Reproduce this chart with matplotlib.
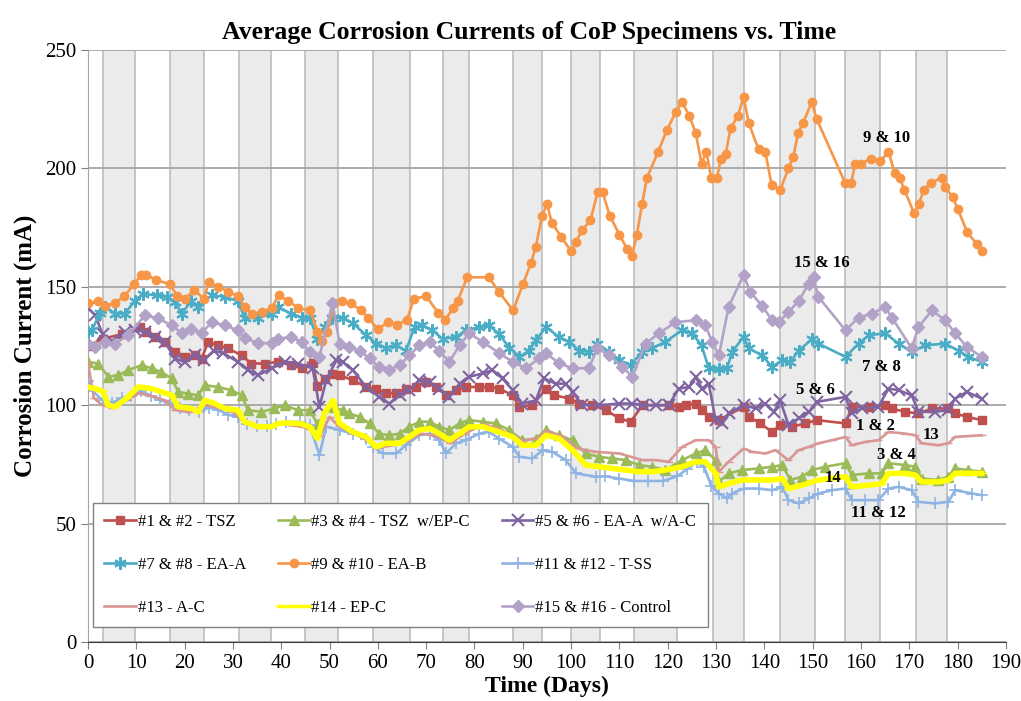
import matplotlib
matplotlib.use("Agg")
import matplotlib.pyplot as plt
from matplotlib.lines import Line2D

plt.rcParams['font.family'] = ['Liberation Serif', 'DejaVu Serif']

# exposure periods (grey bands), days
band_start = [3, 17, 31.3, 45, 59, 73.5, 88, 100, 113, 129.4, 143.3, 156.7, 171.4]
band_end = [9.7, 24, 37.9, 51.8, 66.7, 78.9, 94, 106, 122, 135.8, 150.5, 164, 177.8]

# (day, current mA)
tsz = [(0, 125), (3, 128), (7, 130), (10.7, 133), (12, 131), (13.8, 128.8), (15.9, 126.7), (18, 122.5),
       (20, 120.4), (22.1, 121), (23.5, 119.7), (24.9, 126.7), (26.9, 125.3), (29, 124), (31.8, 121),
       (33.8, 117.6), (36.6, 117.6), (39.3, 118.3), (42, 116.9), (44.2, 115.5), (46.5, 117.7), (47.5, 108),
       (49, 111), (50.5, 113), (52.1, 112.7), (54.8, 110.5), (57.6, 107.7), (59.6, 107), (61.7, 105),
       (63.8, 105), (65.8, 107), (67.9, 107.7), (70, 109.8), (72, 107.7), (74.1, 104.2), (76.2, 106.3),
       (78.2, 107.7), (81, 107.7), (83, 107.7), (85.1, 107), (87.9, 104.2), (89.3, 99.3), (92, 100),
       (94.8, 107), (96.5, 104.2), (99.6, 102.8), (101.7, 100.7), (104.4, 100), (107.2, 97.9), (110, 94.4),
       (112.3, 93), (114.8, 100), (120.2, 100), (122.3, 99.3), (123.7, 100), (125.8, 100.7), (127.1, 97.9),
       (128.5, 95.1), (130.6, 93.7), (135.7, 99.3), (136.8, 95.1), (139.2, 92.3), (141.6, 88.7),
       (143.3, 91.6), (145.7, 90.9), (148.5, 92.3), (150.9, 93.7), (156.8, 92.3), (158.1, 99.3),
       (161.6, 99.3), (165, 100), (166.4, 98.6), (169.1, 97.2), (171.9, 96.5), (174.7, 98.6), (178.1, 98.6),
       (179.5, 96.5), (181.9, 95.1), (185, 93.7)]

tsz_epc = [(0, 118.3), (2.1, 117.6), (4.2, 112), (6.3, 112.7), (8.3, 114.8), (11.1, 116.9), (13.2, 115.5),
           (15.2, 114), (17.3, 111.3), (18.7, 105.6), (20.7, 104.9), (22.8, 104.2), (24.2, 108.4),
           (26.9, 107.7), (29.7, 106.3), (31.8, 104.2), (33.1, 97.9), (35.9, 97.2), (38.6, 98.6), (40.7, 100),
           (43.4, 97.9), (45.9, 97.9), (47.5, 92), (50, 99.3), (52.7, 97.9), (54.1, 96.5), (56.2, 95.1),
           (58.3, 92.3), (60.3, 88), (62.4, 87.3), (64.5, 88), (66.5, 90.9), (68.6, 93), (70.7, 93),
           (72.7, 90.9), (74.8, 89.5), (76.9, 92.3), (78.9, 93.7), (81.7, 93), (84.4, 92.3), (87.2, 89.5),
           (89.9, 85.2), (92.7, 85.9), (94.8, 89.5), (97.5, 87.3), (100.3, 85.2), (103, 79.6), (105.8, 78.2),
           (108.5, 77.5), (111.3, 76.8), (114, 74.7), (116.8, 74), (119.5, 72.6), (123, 76.8), (125.8, 79.6),
           (127.8, 81), (129.9, 76.8), (130.6, 67.6), (132.6, 71.2), (135.4, 72.6), (138.8, 73.3),
           (141.6, 74), (143.7, 74.7), (145.4, 68.4), (147.8, 69.8), (149.9, 72.6), (152.6, 74),
           (156.8, 75.5), (158.1, 70.5), (161.6, 71.2), (164.3, 71.2), (165.7, 75.5), (169.1, 74.7),
           (171.2, 74), (172.6, 69), (176, 68.4), (178.1, 69.8), (179.5, 73.3), (182.2, 72.6), (185, 71.9)]

eaa_ac = [(0, 141), (1.5, 138), (3, 130), (5, 127), (7.6, 131), (9.7, 131.6), (11.8, 131), (13.8, 128.8),
          (15.9, 126.7), (18, 119.7), (20, 118.3), (22.1, 121), (24, 119), (26, 123), (28, 122), (31, 118.3),
          (33.1, 114.8), (35.2, 112.7), (38, 115.5), (40.7, 118.3), (43.4, 117.6), (46.5, 115.5),
          (47.9, 99.3), (49.3, 110.5), (51.4, 119), (52.7, 118.3), (54.8, 114.8), (57.6, 107.7),
          (60.3, 103.5), (62.4, 100.7), (64.5, 104.2), (66.5, 106.3), (68.6, 110.5), (70.7, 109.8),
          (72.7, 107), (74.8, 103.5), (76.9, 109.1), (78.9, 112), (81.7, 113.4), (83.7, 114.8),
          (85.8, 111.3), (87.9, 106.3), (89.9, 100.7), (92.7, 102), (94.4, 111.3), (96.8, 109.1),
          (98.9, 109.1), (100.3, 105.6), (102.3, 100), (105.8, 100), (110, 100.7), (112.7, 100.7),
          (114.8, 100), (117.5, 100), (120.2, 100), (122.3, 107), (124.4, 107.7), (125.8, 111.9),
          (127.1, 107), (128.5, 109.1), (129.9, 93.7), (131.3, 92.3), (132.6, 96.5), (135.7, 100),
          (138.2, 98.6), (140.2, 100.7), (142, 97.2), (143.3, 102), (145, 91.6), (147.1, 94.4), (149.2, 97.2),
          (150.9, 101.4), (156.8, 103.5), (158.1, 96.5), (160.2, 98.6), (163.6, 99.3), (165.7, 107),
          (167.8, 106.3), (170.5, 104.2), (171.9, 97.2), (175.3, 97.2), (178.1, 97.9), (179.5, 102.8),
          (181.9, 105.6), (185, 102.8)]

eaa = [(0, 131), (0.8, 131.6), (2.5, 139), (3.5, 141.5), (5.6, 138.7), (7.6, 138.7), (9.7, 144), (11.4, 147),
       (14.2, 146.4), (16.3, 145.7), (18, 143.6), (19.4, 138.7), (21.4, 144), (22.7, 141.5), (25.6, 146.4),
       (28.3, 145.7), (31, 144), (32.4, 137), (35.1, 136.7), (38, 138.7), (39.3, 141.5), (42, 138.7),
       (44.2, 137), (45.9, 137), (47.5, 128), (49, 133), (50.6, 136.7), (52.7, 137), (54.8, 134.6),
       (57.6, 129.5), (59.6, 126), (61.7, 124), (63.8, 125.3), (65.8, 123), (67.6, 133), (69.2, 133.7),
       (71.3, 131.6), (73.4, 128), (76.2, 128.8), (78.2, 131.6), (81, 133), (83, 133.7), (85.1, 130),
       (87.2, 124.3), (89.3, 120.4), (91.3, 123), (92.7, 127.4), (94.8, 133), (97.5, 128.8), (99.6, 126.7),
       (101.7, 123), (103.7, 122.5), (105.4, 126), (107.9, 122.5), (110, 119), (112.3, 116.9),
       (114.7, 122.5), (116.7, 124), (119.5, 126.7), (122.9, 131.6), (125, 130.4), (127, 125.3),
       (128.5, 115.6), (130.6, 115.2), (132.3, 115.6), (133.3, 122.5), (135.7, 128.8), (136.8, 124),
       (139.5, 121), (141.6, 116.2), (143.7, 119), (145.4, 118.3), (147.1, 123), (149.9, 128), (151.2, 126),
       (156.8, 120.4), (159.5, 126), (161.6, 129.5), (165, 130.4), (167.8, 126), (170.5, 122.5),
       (173.3, 125.3), (177.4, 126), (180.2, 123), (182.2, 120.4), (185, 118.3)]

eab = [(0, 143), (2, 144), (3.5, 142), (5.5, 143), (7.5, 146), (9.5, 151), (11, 155), (12, 155), (14, 153),
       (17, 151), (18.5, 146), (20, 145), (22, 148.5), (24, 145), (25, 152), (27, 150), (29, 148), (31, 146),
       (32.5, 141.5), (34, 138.5), (36, 139.5), (38, 141), (39.5, 146.5), (41.5, 144), (43.5, 141),
       (46, 140), (47.5, 131), (48.5, 127), (49.5, 131), (51, 143), (52.5, 144), (54.5, 143), (56.5, 140),
       (58, 137), (60, 132), (62, 135), (64, 134), (66, 136), (67.5, 145), (70, 146), (72.5, 139),
       (74, 136), (75.5, 141), (76.5, 144), (78.5, 154), (83, 154), (85, 148), (88, 140), (90, 151),
       (91.7, 160), (92.7, 167), (94, 180), (95, 185), (96, 177), (98, 171), (100, 165), (101, 169),
       (102.3, 174), (104, 178), (105.5, 190), (106.5, 190), (108, 180), (110, 172), (111.6, 166),
       (112.6, 163), (113.6, 172), (114.7, 185), (115.7, 196), (118, 207), (119.8, 216), (121.7, 224),
       (123, 228), (124.5, 222), (125.8, 215), (127, 202), (128, 207), (129, 196), (130.2, 196),
       (131, 204), (132, 206), (133, 217), (134.5, 222), (135.7, 230), (136.8, 219), (138.8, 208),
       (140.2, 207), (141.5, 193), (143.3, 191), (145, 200), (146, 205), (147, 215), (148, 219),
       (149.8, 228), (150.8, 221), (156.7, 194), (158, 194), (158.8, 202), (160, 202), (162, 204),
       (164, 203), (165.7, 207), (167, 198), (168, 196), (169, 191), (171, 181), (172, 185), (173, 191),
       (174.6, 194), (176.7, 196), (177.4, 192), (179, 188), (180, 183), (182, 173), (184, 168), (185, 165)]

tss = [(0, 110), (1, 106), (3, 102), (5, 101), (7, 103), (9, 104), (11, 106), (13, 104), (15, 102), (17, 101),
       (19, 99), (21, 98), (23, 97), (25, 99), (27, 98), (29, 96), (31, 95), (33, 92), (35, 91), (37, 91),
       (39, 92), (41, 93), (43.8, 93), (45.9, 91.6), (47.9, 78.9), (49.3, 90.9), (52.1, 89.5), (54.8, 88),
       (57.6, 85.9), (59, 82.4), (61, 79.6), (63.8, 79.6), (65.8, 83.1), (68.6, 87.3), (70.7, 88),
       (72.7, 85.2), (74.1, 79.6), (76.2, 83.9), (78.2, 85.2), (81, 88), (83, 88.7), (85.1, 85.9),
       (87.9, 82.4), (89.3, 78.2), (92, 77.5), (94.1, 81), (96.1, 80.3), (98.9, 76.8), (101, 71.2),
       (105.1, 69.8), (107, 70), (110, 69), (113, 68), (116, 68), (119, 68), (122, 70), (124, 73), (126, 76),
       (127.5, 74), (129, 66), (130.6, 62.7), (132.3, 60.6), (133.3, 62.7), (135.7, 64.8), (138.8, 64.8),
       (141.6, 64.1), (143.7, 65.5), (145, 59.9), (147.1, 58.5), (149.2, 60.6), (151.2, 62.7), (154, 64.1),
       (156.8, 64.8), (158.1, 59.9), (160.9, 59.9), (163.6, 59.9), (165.7, 64.8), (167.8, 65.5),
       (170.5, 64.1), (171.9, 59.2), (175.3, 58.5), (178.1, 59.2), (179.5, 64.1), (183, 62.7), (185, 62)]

ac = [(0, 118), (1.2, 103), (3, 100), (5, 99), (8, 102), (10.5, 105), (13, 104), (16, 102), (18, 98), (21, 97),
      (24, 100), (27, 99), (30, 97), (33, 92), (36, 91), (40, 92), (44, 91), (46, 90), (48, 87), (50, 95),
      (52, 91), (55, 88), (58, 85), (60, 82), (63, 83), (66, 85), (69, 88), (72, 87), (75, 84), (78, 88),
      (82, 92), (85, 90), (87.2, 88), (90, 85), (93, 86), (95, 89), (98, 87), (101, 82), (103, 81),
      (105.1, 80.3), (110, 79.6), (114.8, 76.8), (117.5, 76.8), (120.2, 76.1), (123, 82.4), (125.8, 85.2),
      (128.5, 85.2), (129.9, 82.4), (130.6, 71.9), (132.6, 76.1), (135.7, 81.7), (137.5, 80.3),
      (140.2, 79.6), (142.3, 81), (145, 76.8), (147.1, 81), (149.2, 82.4), (151.2, 83.9), (154, 85.2),
      (156.8, 86.6), (158.1, 83.1), (160.9, 84.5), (163.6, 85.2), (165.7, 88.7), (169.1, 88), (171.2, 87.3),
      (172.6, 83.9), (176, 83.1), (178.1, 83.9), (179.5, 86.6), (185, 87.3)]

epc = [(0, 107.7), (1.4, 107), (3, 106), (4.2, 100), (5.6, 99.3), (8, 103), (10.4, 107.7), (13.2, 107),
       (15.2, 105.6), (17.3, 104.2), (18.7, 99.3), (21.4, 98.6), (22.8, 97.2), (24.2, 102.1), (26.2, 100.7),
       (28.3, 98.6), (31, 97.9), (32.4, 93), (35.2, 90.9), (38, 90.9), (39.3, 92.3), (41.5, 92.5),
       (43.8, 92.3), (45.9, 90.9), (47.5, 86), (49, 97), (50.7, 102), (52.1, 92.3), (54.8, 88.7),
       (57.6, 86.6), (59.6, 82.4), (61.7, 83.9), (64.5, 83.9), (66.5, 86.6), (68.6, 89.5), (70.7, 90.2),
       (72.7, 88), (74.8, 85.2), (76.9, 88), (78.9, 90.9), (81.7, 90.9), (85.1, 88.7), (87.9, 86.6),
       (89.9, 83.1), (92.7, 83.1), (94.8, 87.3), (97.5, 85.9), (100.3, 81), (103, 74.7), (105.8, 74),
       (108.5, 73.3), (111.3, 72.6), (114, 71.9), (116.8, 71.9), (119.5, 72.6), (123, 74), (125.8, 76.1),
       (127.8, 76.1), (129.9, 71.2), (130.6, 65.5), (132.6, 66.9), (135.4, 68.4), (138.8, 68.4),
       (141.6, 68.4), (143.7, 69), (145, 64.8), (147.8, 66.2), (151.2, 68.4), (156.8, 69.8), (158.1, 65.5),
       (161.6, 66.2), (164.3, 66.9), (165.7, 71.2), (169.1, 71.2), (171.2, 70.5), (172.6, 67.6), (176, 67.6),
       (178.1, 68.4), (179.5, 71.2), (185, 71.2)]

control = [(0, 126), (1.4, 124.6), (3.5, 126.7), (5.6, 126), (8.3, 129.5), (11.8, 138), (14.5, 136.7),
           (17.3, 133.7), (19.4, 130.4), (21.4, 132.3), (23.5, 130.4), (25.6, 135), (28.3, 133.7), (31, 131.6),
           (32.4, 128.3), (35.2, 126.2), (38, 126.2), (39.3, 128), (42, 128.8), (44.2, 126.7), (45.9, 122.5),
           (47.9, 120.4), (50.6, 143), (52.1, 126), (54.1, 124.6), (56.2, 123), (58.3, 119.8), (60.3, 116),
           (62.4, 114.8), (64.5, 116.9), (66.5, 121), (68.6, 125.3), (70.7, 126.7), (72.7, 123),
           (74.8, 118.3), (76.9, 125.3), (78.9, 130.4), (81.7, 126.7), (85.1, 122), (87.9, 118.3),
           (90.6, 115.6), (93.4, 119.8), (94.8, 122), (97.5, 117.7), (100.3, 115.6), (103.7, 115.6),
           (105.4, 124), (107.9, 121), (110.6, 116.2), (112.7, 112), (115.4, 126), (118.2, 130.4),
           (121.6, 135), (125.8, 135.9), (127.8, 133.7), (129.2, 126.7), (130.6, 121), (132.6, 141.5),
           (135.7, 155), (137.1, 147.8), (139.5, 142), (141.6, 135.9), (143, 135), (145, 139.4), (147.1, 144),
           (149.2, 151.3), (150.2, 154), (151.2, 145.7), (156.8, 131.6), (159.5, 137), (162.3, 138.7),
           (165, 141.5), (166.4, 137), (170.5, 124), (171.9, 133), (174.7, 140), (177.4, 135.9),
           (179.5, 130.4), (181.9, 124.6), (185, 120.4)]

names = ["#1 & #2 - TSZ", "#3 & #4 - TSZ  w/EP-C", "#5 & #6 - EA-A  w/A-C",
         "#7 & #8 - EA-A", "#9 & #10 - EA-B", "#11 & #12 - T-SS",
         "#13 - A-C", "#14 - EP-C", "#15 & #16 - Control"]
series = [tsz, tsz_epc, eaa_ac, eaa, eab, tss, ac, epc, control]

# curve labels drawn on the plot
label_text = ["9 & 10", "15 & 16", "7 & 8", "5 & 6", "1 & 2", "13", "3 & 4", "14", "11 & 12"]
label_x = [165.3, 151.9, 164.3, 150.6, 163.0, 174.6, 167.4, 154.3, 163.6]
label_y = [213, 160, 116.2, 106.3, 91, 87.3, 79, 69.2, 54.4]

styles = [
    dict(color="#C0504D", marker="s", ms=6),
    dict(color="#9BBB59", marker="^", ms=7),
    dict(color="#8064A2", marker="x", ms=8, mew=1.5),
    dict(color="#4BACC6", marker=(6, 2, 0), ms=9, mew=1.5),
    dict(color="#F79646", marker="o", ms=6),
    dict(color="#8EB4E3", marker="+", ms=9, mew=1.2),
    dict(color="#D99694", marker="_", ms=6),
    dict(color="#FFFF00", marker="_", ms=6, lw=4),
    dict(color="#B3A2C7", marker="D", ms=6),
]

fig = plt.figure(figsize=(10.21, 7.01), dpi=100)
ax = fig.add_axes([0.0862, 0.0842, 0.8990, 0.8445])

for s, e in zip(band_start, band_end):
    ax.axvspan(s, e, facecolor="#EBEBEB", edgecolor="#BDBDBD", lw=1.2, zorder=0)

ax.set_axisbelow(True)
ax.yaxis.grid(True, color="#A6A6A6", lw=1.3)

handles = []
for data, name, st in zip(series, names, styles):
    days = [p[0] for p in data]
    vals = [p[1] for p in data]
    st = dict(st)
    lw = st.pop("lw", 1.9)
    ax.plot(days, vals, lw=lw, zorder=3, **st)
    handles.append(Line2D([], [], lw=min(lw, 2.5), **st))

for t, x, y in zip(label_text, label_x, label_y):
    ax.text(x, y, t, ha="center", va="center", fontsize=12, fontweight="bold", zorder=5)

ax.set_xlim(0, 190)
ax.set_ylim(0, 250)
ax.set_xticks(range(0, 191, 10))
ax.set_yticks(range(0, 251, 50))
ax.tick_params(axis="both", labelsize=15, direction="out", length=5, color="#808080")
ax.spines["top"].set_visible(False)
ax.spines["right"].set_visible(False)
ax.spines["left"].set_color("#A6A6A6")
ax.spines["bottom"].set_color("#404040")

ax.set_xlabel("Time (Days)", fontsize=17, fontweight="bold", labelpad=2)
ax.set_ylabel("Corrosion Current (mA)", fontsize=18, fontweight="bold", labelpad=6)
ax.set_title("Average Corrosion Currents of CoP Specimens vs. Time", fontsize=18.5, fontweight="bold",
             pad=8, x=0.48)

order = [0, 3, 6, 1, 4, 7, 2, 5, 8]
leg = ax.legend([handles[i] for i in order], [names[i] for i in order], ncol=3,
                loc="lower left", bbox_to_anchor=(0.005, 0.025, 0.67, 0.206), mode="expand",
                fontsize=12, frameon=True, fancybox=False, edgecolor="#808080", framealpha=1,
                numpoints=1, handlelength=1.9, handletextpad=0.1, borderaxespad=0,
                labelspacing=1.6, borderpad=0.7)
leg.get_frame().set_linewidth(1.0)
leg.set_zorder(6)

fig.savefig("out.png", dpi=100)
